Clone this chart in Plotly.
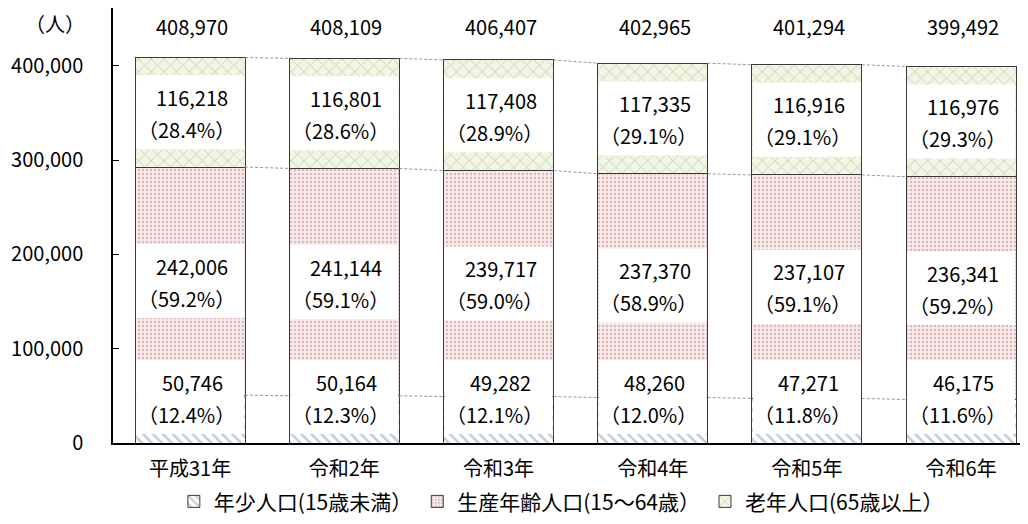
import plotly.graph_objects as go

categories = ["平成31年", "令和2年", "令和3年", "令和4年", "令和5年", "令和6年"]
young = [50746, 50164, 49282, 48260, 47271, 46175]
working = [242006, 241144, 239717, 237370, 237107, 236341]
elderly = [116218, 116801, 117408, 117335, 116916, 116976]
totals = [408970, 408109, 406407, 402965, 401294, 399492]
young_pct = [12.4, 12.3, 12.1, 12.0, 11.8, 11.6]
working_pct = [59.2, 59.1, 59.0, 58.9, 59.1, 59.2]
elderly_pct = [28.4, 28.6, 28.9, 29.1, 29.1, 29.3]
series_names = ["年少人口(15歳未満）", "生産年齢人口(15～64歳）", "老年人口(65歳以上）"]
y_ticks = [0, 100000, 200000, 300000, 400000]
unit_label = "（人）"

FONT = "Noto Sans CJK JP, Noto Sans, sans-serif"
BAR_W = 0.713
xs = list(range(len(categories)))

fig = go.Figure()

styles = [
    dict(shape="\\", fg="#7f97aa", bg="#ffffff", size=7, solidity=0.35),
    dict(shape=".", fg="#c88484", bg="#f7ebeb", size=4, solidity=0.3),
    dict(shape="x", fg="#9aab82", bg="#f1f5e3", size=9, solidity=0.18),
]
for name, vals, st in zip(series_names, [young, working, elderly], styles):
    fig.add_trace(go.Bar(
        x=xs, y=vals, name=name, width=BAR_W,
        marker=dict(
            color=st["bg"],
            line=dict(color="#3a3a3a", width=1),
            pattern=dict(shape=st["shape"], fgcolor=st["fg"], bgcolor=st["bg"],
                         size=st["size"], solidity=st["solidity"]),
        ),
        hoverinfo="skip",
    ))

# connector lines between bars
levels = [
    young,
    [a + b for a, b in zip(young, working)],
    [a + b + c for a, b, c in zip(young, working, elderly)],
]
for lvl in levels:
    lx, ly = [], []
    for i in range(len(xs) - 1):
        lx += [xs[i] + BAR_W / 2, xs[i + 1] - BAR_W / 2, None]
        ly += [lvl[i], lvl[i + 1], None]
    fig.add_trace(go.Scatter(x=lx, y=ly, mode="lines", showlegend=False,
                             line=dict(color="#8a9ab0", width=1, dash="3px,2px"),
                             hoverinfo="skip"))

shapes = []
annotations = []
YOUNG_LABEL_Y = 48800
TOTAL_LABEL_Y = 442000
NUM_SIZE = 20
for i in xs:
    centers = [
        (YOUNG_LABEL_Y, young[i], young_pct[i]),
        (young[i] + working[i] / 2, working[i], working_pct[i]),
        (young[i] + working[i] + elderly[i] / 2, elderly[i], elderly_pct[i]),
    ]
    for yc, v, p in centers:
        shapes.append(dict(type="rect", xref="x", yref="y",
                           xsizemode="pixel", ysizemode="pixel",
                           xanchor=i, yanchor=yc, x0=-54, x1=54, y0=-37, y1=37,
                           fillcolor="white", line=dict(width=0), layer="above"))
        annotations.append(dict(x=i, y=yc, xref="x", yref="y", text=f"{v:,}",
                                showarrow=False, yshift=15, xshift=2,
                                font=dict(size=NUM_SIZE, family=FONT, color="black")))
        annotations.append(dict(x=i, y=yc, xref="x", yref="y", text=f"（{p:.1f}%）",
                                showarrow=False, yshift=-17, xshift=-4,
                                font=dict(size=NUM_SIZE, family=FONT, color="black")))
    annotations.append(dict(x=i, y=TOTAL_LABEL_Y, xref="x", yref="y", text=f"{totals[i]:,}",
                            showarrow=False, xshift=2,
                            font=dict(size=NUM_SIZE, family=FONT, color="black")))

annotations.append(dict(x=-0.063, y=1.0, xref="paper", yref="paper", text=unit_label,
                        xanchor="center", yanchor="top", borderpad=0,
                        showarrow=False, font=dict(size=20, family=FONT, color="black")))

fig.update_layout(
    width=1020, height=516,
    margin=dict(l=105, r=0, t=0, b=81, autoexpand=False),
    barmode="stack",
    plot_bgcolor="white", paper_bgcolor="white",
    font=dict(family=FONT, size=20, color="black"),
    shapes=shapes, annotations=annotations,
    legend=dict(orientation="h", x=0.49, xanchor="center", y=-0.135, yanchor="middle",
                font=dict(size=21, family=FONT), traceorder="normal",
                itemwidth=30, bgcolor="rgba(0,0,0,0)"),
    xaxis=dict(range=[-0.5, -0.5 + 915 / 154.2], tickvals=xs, ticktext=categories,
               showline=True, linecolor="black", linewidth=1.5, mirror=True,
               ticks="", showgrid=False, zeroline=False, ticklabelstandoff=7,
               tickfont=dict(size=20, family=FONT)),
    yaxis=dict(range=[0, 461500], tickvals=y_ticks, tickformat=",",
               showline=True, linecolor="black", linewidth=1.5,
               ticks="inside", ticklen=6, tickcolor="black",
               showgrid=False, zeroline=False, ticklabelstandoff=24,
               tickfont=dict(size=20, family=FONT)),
)

fig.write_html("out.html")
